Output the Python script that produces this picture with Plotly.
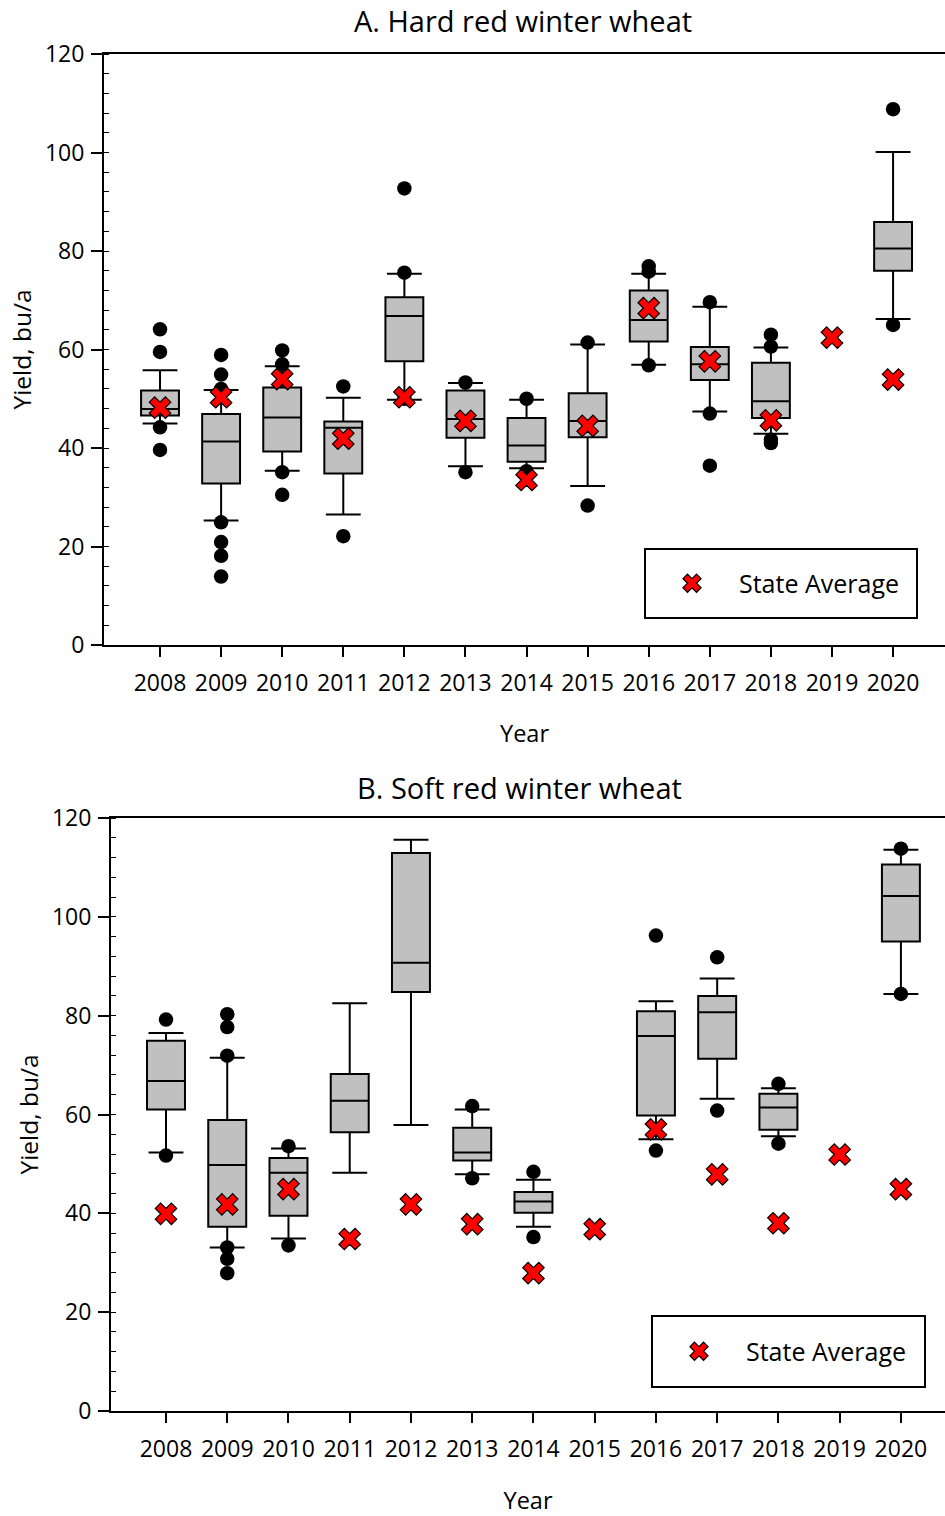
import plotly.graph_objects as go

# ---------------- data ----------------
years = list(range(2008, 2021))

# A. Hard red winter wheat (box stats)
hrw_box_year = [2008, 2009, 2010, 2011, 2012, 2013, 2014, 2015, 2016, 2017, 2018, 2020]
hrw_lowerfence = [45.0, 25.3, 35.4, 26.5, 49.8, 36.3, 35.9, 32.3, 56.9, 47.4, 42.9, 66.2]
hrw_q1 = [46.6, 32.8, 39.3, 34.8, 57.6, 42.1, 37.2, 42.2, 61.6, 53.8, 46.1, 76.0]
hrw_median = [47.9, 41.3, 46.2, 44.1, 66.8, 45.9, 40.5, 45.5, 66.0, 57.0, 49.5, 80.5]
hrw_q3 = [51.7, 46.9, 52.3, 45.4, 70.6, 51.7, 46.1, 51.1, 72.0, 60.5, 57.3, 85.9]
hrw_upperfence = [55.8, 51.8, 56.6, 50.2, 75.4, 53.2, 49.8, 61.0, 75.4, 68.7, 60.4, 100.1]
hrw_outlier_year = [2008, 2008, 2008, 2008,
                    2009, 2009, 2009, 2009, 2009, 2009, 2009,
                    2010, 2010, 2010, 2010,
                    2011, 2011,
                    2012, 2012, 2012,
                    2013, 2013,
                    2014, 2014,
                    2015, 2015,
                    2016, 2016, 2016,
                    2017, 2017, 2017,
                    2018, 2018, 2018, 2018,
                    2020, 2020]
hrw_outlier_yield = [64.1, 59.5, 44.2, 39.6,
                     58.9, 54.9, 52.0, 24.9, 20.9, 18.1, 13.9,
                     59.8, 57.0, 35.1, 30.5,
                     52.5, 22.1,
                     92.7, 75.6, 50.0,
                     53.3, 35.1,
                     50.0, 35.3,
                     61.4, 28.3,
                     76.9, 75.8, 56.8,
                     69.6, 47.0, 36.4,
                     63.0, 60.6, 41.7, 41.0,
                     108.8, 65.0]
hrw_state_avg = [48.2, 50.3, 54.0, 41.9, 50.3, 45.5, 33.5, 44.5, 68.4, 57.6, 45.6, 62.4, 53.9]

# B. Soft red winter wheat (box stats)
srw_box_year = [2008, 2009, 2010, 2011, 2012, 2013, 2014, 2016, 2017, 2018, 2020]
srw_lowerfence = [52.3, 33.1, 34.9, 48.2, 57.9, 47.9, 37.3, 55.0, 63.2, 55.6, 84.4]
srw_q1 = [61.0, 37.3, 39.5, 56.4, 84.8, 50.7, 40.1, 59.8, 71.3, 56.9, 95.0]
srw_median = [66.8, 49.8, 48.2, 62.8, 90.7, 52.3, 42.4, 75.9, 80.7, 61.4, 104.2]
srw_q3 = [74.9, 58.9, 51.2, 68.2, 112.9, 57.3, 44.3, 80.9, 84.0, 64.2, 110.6]
srw_upperfence = [76.5, 71.5, 53.1, 82.5, 115.6, 61.0, 46.8, 82.9, 87.5, 65.3, 113.6]
srw_outlier_year = [2008, 2008,
                    2009, 2009, 2009, 2009, 2009, 2009,
                    2010, 2010,
                    2013, 2013,
                    2014, 2014,
                    2016, 2016,
                    2017, 2017,
                    2018, 2018,
                    2020, 2020]
srw_outlier_yield = [79.2, 51.7,
                     80.3, 77.7, 71.9, 33.1, 30.8, 27.9,
                     53.6, 33.5,
                     61.7, 47.1,
                     48.4, 35.2,
                     96.2, 52.7,
                     91.8, 60.8,
                     66.2, 54.1,
                     113.8, 84.4]
srw_state_avg = [39.9, 41.8, 44.9, 34.8, 41.8, 37.8, 27.9, 36.8, 57.0, 47.9, 38.0, 51.9, 44.9]

tick_labels = [str(y) for y in years]

# ---------------- figure ----------------
W, H = 945, 1516
FONT = "Open Sans"
BOX_FILL = "#c0c0c0"


def px_x(p):
    return p / W


def px_y(p):
    return 1 - p / H


fig = go.Figure()


def add_panel(xa, ya, box_year, lf, q1, med, q3, uf, out_x, out_y, avg, legend_name):
    fig.add_trace(go.Box(
        x=box_year, lowerfence=lf, q1=q1, median=med, q3=q3, upperfence=uf,
        xaxis=xa, yaxis=ya, width=0.62, whiskerwidth=0.92,
        fillcolor=BOX_FILL, line=dict(color="black", width=2),
        boxpoints=False, showlegend=False, hoverinfo="skip"))
    fig.add_trace(go.Scatter(
        x=out_x, y=out_y, mode="markers", xaxis=xa, yaxis=ya,
        marker=dict(symbol="circle", size=14.5, color="black"),
        showlegend=False, hoverinfo="skip"))
    fig.add_trace(go.Scatter(
        x=years, y=avg, mode="markers", xaxis=xa, yaxis=ya,
        name="State Average", legend=legend_name,
        marker=dict(symbol="x", size=19, color="#ff0000",
                    line=dict(color="black", width=1.2)),
        showlegend=True, hoverinfo="skip"))


add_panel("x", "y", hrw_box_year, hrw_lowerfence, hrw_q1, hrw_median, hrw_q3,
          hrw_upperfence, hrw_outlier_year, hrw_outlier_yield, hrw_state_avg, "legend")
add_panel("x2", "y2", srw_box_year, srw_lowerfence, srw_q1, srw_median, srw_q3,
          srw_upperfence, srw_outlier_year, srw_outlier_yield, srw_state_avg, "legend2")


def xaxis_cfg(left_px, rng, anchor, title_standoff):
    return dict(
        domain=[px_x(left_px), 1.0], range=rng, anchor=anchor, automargin=False,
        tickmode="array", tickvals=years, ticktext=tick_labels,
        ticks="outside", ticklen=10, tickwidth=1.5, tickcolor="black",
        ticklabelstandoff=6,
        showline=True, linewidth=2, linecolor="black", mirror=True,
        showgrid=False, zeroline=False,
        tickfont=dict(family=FONT, size=23, color="black"),
        title=dict(text="Year", font=dict(family=FONT, size=23.5, color="black"),
                   standoff=title_standoff),
    )


def yaxis_cfg(top_px, bot_px, anchor):
    return dict(
        domain=[px_y(bot_px), px_y(top_px)], range=[0, 120], anchor=anchor,
        automargin=False,
        tickmode="linear", tick0=0, dtick=20,
        ticks="outside", ticklen=11, tickwidth=1.5, tickcolor="black",
        ticklabelstandoff=2,
        minor=dict(ticks="inside", dtick=4, tick0=0, ticklen=5, tickwidth=1.2, tickcolor="black"),
        showline=True, linewidth=2, linecolor="black",
        showgrid=False, zeroline=False,
        tickfont=dict(family=FONT, size=23, color="black"),
        title=dict(text="Yield, bu/a", font=dict(family=FONT, size=24.5, color="black"), standoff=6),
    )


legend_common = dict(
    bgcolor="rgba(0,0,0,0)", borderwidth=0,
    font=dict(family=FONT, size=25, color="black"),
    itemwidth=84, xanchor="left", yanchor="middle",
)

fig.update_layout(
    width=W, height=H,
    margin=dict(l=0, r=0, t=0, b=0, autoexpand=False),
    paper_bgcolor="white", plot_bgcolor="white",
    font=dict(family=FONT, color="black"),
    xaxis=xaxis_cfg(104, [2007.083, 2020.85], "y", 29),
    yaxis=yaxis_cfg(54, 645, "x"),
    xaxis2=xaxis_cfg(111, [2007.102, 2020.72], "y2", 30),
    yaxis2=yaxis_cfg(818, 1411, "x2"),
    legend=dict(x=px_x(645), y=px_y(583.5), **legend_common),
    legend2=dict(x=px_x(652), y=px_y(1351.5), **legend_common),
    shapes=[
        dict(type="rect", xref="paper", yref="paper",
             x0=px_x(645), x1=px_x(917), y0=px_y(618), y1=px_y(549),
             line=dict(color="black", width=2), fillcolor="rgba(0,0,0,0)"),
        dict(type="rect", xref="paper", yref="paper",
             x0=px_x(652), x1=px_x(925), y0=px_y(1387), y1=px_y(1316),
             line=dict(color="black", width=2), fillcolor="rgba(0,0,0,0)"),
    ],
    annotations=[
        dict(text="A. Hard red winter wheat", xref="paper", yref="paper",
             x=px_x(523), y=px_y(21), xanchor="center", yanchor="middle",
             showarrow=False, font=dict(family=FONT, size=29, color="black")),
        dict(text="B. Soft red winter wheat", xref="paper", yref="paper",
             x=px_x(519), y=px_y(787), xanchor="center", yanchor="middle",
             showarrow=False, font=dict(family=FONT, size=29, color="black")),
    ],
)

fig.write_html(
    "out.html",
    config={"displayModeBar": False},
    post_script="document.body.style.margin='0';document.body.style.overflow='hidden';",
)
